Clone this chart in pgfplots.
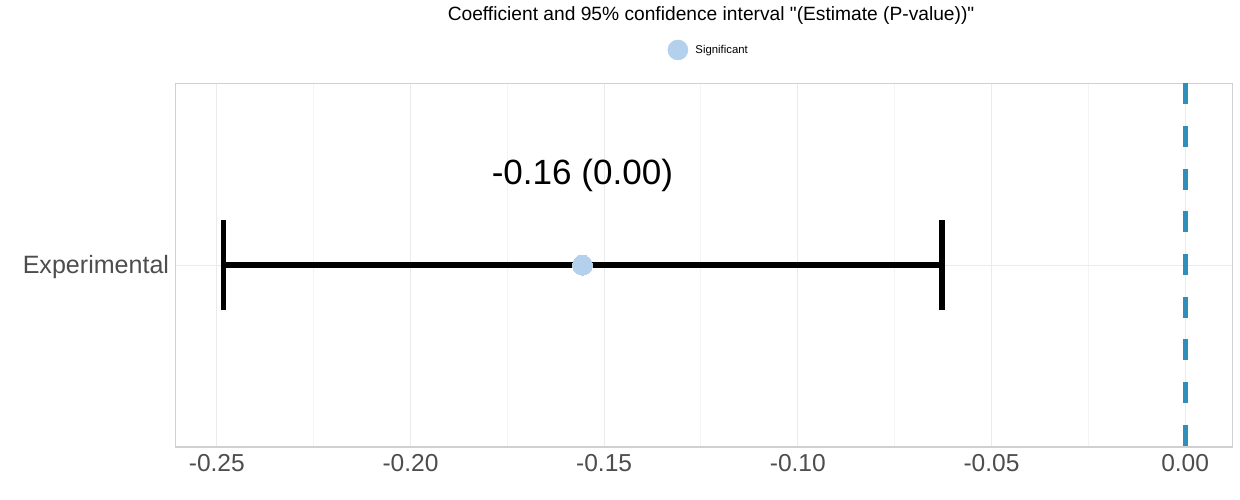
\documentclass[border=0pt]{standalone}
\usepackage{pgfplots}
\pgfplotsset{compat=1.18}
\usepackage{fontspec}
\setmainfont{Liberation Sans}[Ligatures=TeXOff]
\definecolor{ptblue}{HTML}{B3D0EC}
\definecolor{zeroline}{HTML}{2E8FBA}
\definecolor{gridmaj}{HTML}{EBEBEB}
\definecolor{gridmin}{HTML}{F4F4F4}
\definecolor{framec}{HTML}{D0D0D0}
\definecolor{ticktext}{HTML}{4D4D4D}
\begin{document}
\begin{tikzpicture}
\useasboundingbox (0,0) rectangle (930pt,375pt);
\begin{axis}[
  at={(131.8pt,39.75pt)}, anchor=south west,
  scale only axis, width=792.5pt, height=272.8pt,
  xmin=-0.2606, xmax=0.0122, ymin=-1, ymax=1,
  xtick={-0.25,-0.2,-0.15,-0.1,-0.05,0},
  xticklabels={-0.25,-0.20,-0.15,-0.10,-0.05,0.00},
  minor xtick={-0.225,-0.175,-0.125,-0.075,-0.025},
  ytick={0}, yticklabels={Experimental},
  major tick length=0pt, minor tick length=0pt,
  tick style={draw=none},
  xmajorgrids, ymajorgrids, xminorgrids,
  major grid style={gridmaj, line width=0.75pt},
  minor grid style={gridmin, line width=0.75pt},
  axis line style={framec, line width=0.9pt},
  ticklabel style={text=ticktext, inner sep=0pt},
  xticklabel style={font=\fontsize{18.4}{21}\selectfont, anchor=base, yshift=-18.5pt},
  yticklabel style={font=\fontsize{18.8}{21}\selectfont, anchor=base east, xshift=-4.8pt, yshift=-6.2pt},
  /pgf/number format/assume math mode=true,
  every axis title shift=0pt,
  title={Coefficient and 95\% confidence interval "(Estimate (P-value))"},
  title style={at={(0.5066,1.1713)}, anchor=base, inner sep=0pt, font=\fontsize{14.4}{17}\selectfont},
  legend style={at={(0.5047,1.0916)}, anchor=center, draw=none, fill=none,
    font=\fontsize{8.5}{10}\selectfont},
  legend image code/.code={\fill[ptblue] (0.25cm,0cm) circle (7.5pt); \path (0.25cm+11pt,0cm);},
]
% reference line at zero
\addplot[zeroline, line width=3.75pt, dash pattern=on 15.75pt off 16.25pt, forget plot]
  coordinates {(0,1) (0,-1)};
% confidence interval
\addplot[black, line width=4pt, forget plot] coordinates {(-0.2483,0) (-0.0628,0)};
\addplot[black, line width=3.9pt, forget plot] coordinates {(-0.2483,-0.2475) (-0.2483,0.2475)};
\addplot[black, line width=3.9pt, forget plot] coordinates {(-0.0628,-0.2475) (-0.0628,0.2475)};
% estimate
\addplot[ptblue, only marks, mark=*, mark size=7.5pt, mark options={fill=ptblue, draw=ptblue, line width=0pt}]
  coordinates {(-0.1556,0)};
\addlegendentry{Significant}
\node[anchor=base, font=\fontsize{26.3}{30}\selectfont, inner sep=0pt]
  at (axis cs:-0.1556,0.4415) {-0.16 (0.00)};
\end{axis}
\end{tikzpicture}
\end{document}
